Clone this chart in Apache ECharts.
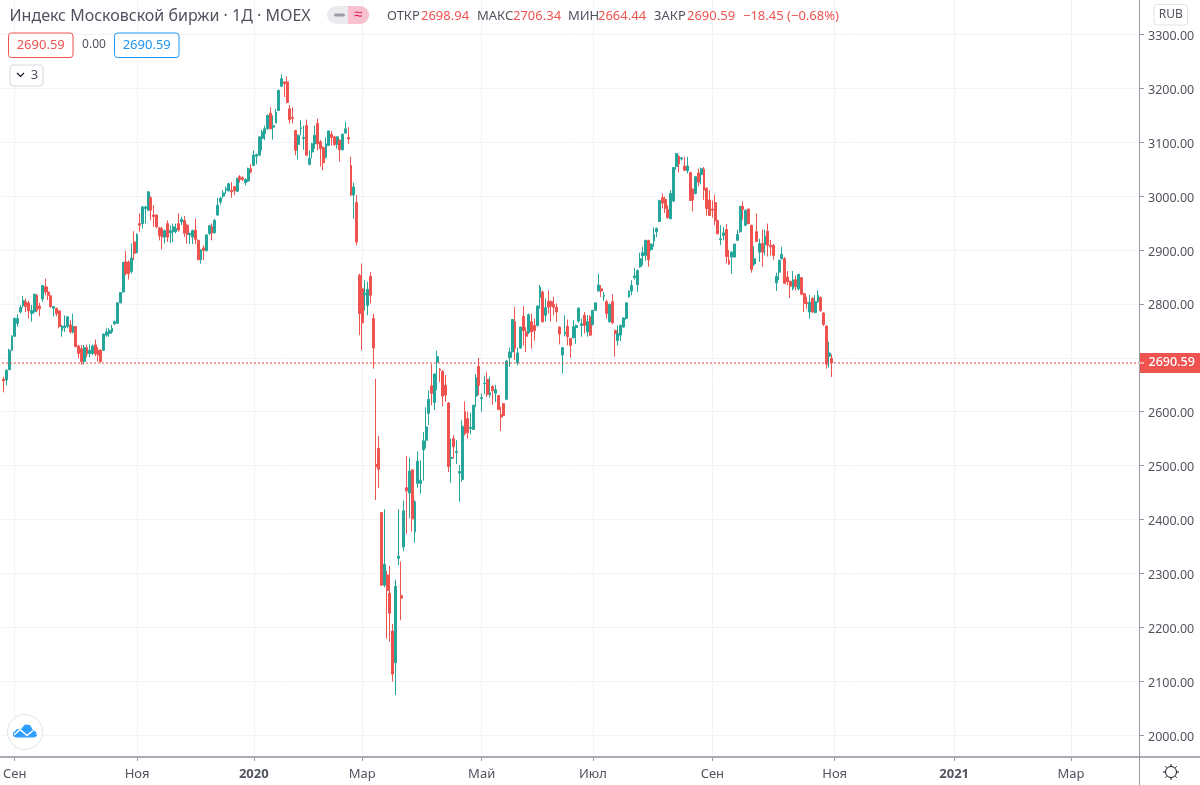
<!DOCTYPE html>
<html>
<head>
<meta charset="utf-8">
<title>Индекс Московской биржи</title>
<style>
  html, body { margin: 0; padding: 0; background: #fff; }
  #chart { width: 1200px; height: 785px; }
</style>
<script src="https://cdn.jsdelivr.net/npm/echarts@6/dist/echarts.min.js"></script>
</head>
<body>
<div id="chart"></div>
<script>
const FONT = '"Noto Sans", sans-serif';

const opens = [
  2660,2659,2678,2714,2740,2764,2785,2797,2804,2802,
  2782,2785,2816,2796,2809,2832,2822,2815,2792,2792,
  2787,2750,2756,2758,2761,2748,2758,2722,2717,2693,
  2719,2708,2708,2724,2714,2714,2714,2742,2745,2748,
  2763,2764,2802,2822,2878,2878,2860,2915,2895,2949,
  2949,2977,2974,2997,2965,2965,2941,2940,2924,2949,
  2932,2934,2934,2949,2952,2955,2946,2928,2924,2937,
  2918,2882,2904,2899,2931,2943,2932,2965,2989,3000,
  3011,3010,3011,3018,3009,3036,3034,3025,3028,3051,
  3057,3074,3076,3107,3116,3125,3154,3128,3136,3159,
  3204,3212,3212,3162,3146,3122,3096,3125,3107,3131,
  3059,3082,3097,3135,3101,3090,3072,3094,3115,3110,
  3096,3104,3086,3117,3109,3057,3002,2988,2853,2828,
  2817,2797,2851,2773,2502,2532,2413,2278,2297,2263,
  2193,2134,2328,2259,2349,2459,2449,2492,2377,2467,
  2467,2529,2547,2597,2648,2617,2692,2679,2675,2649,
  2616,2513,2550,2524,2486,2474,2600,2587,2569,2567,
  2629,2684,2624,2652,2660,2631,2647,2634,2630,2595,
  2615,2623,2700,2711,2767,2691,2718,2777,2748,2747,
  2767,2760,2760,2812,2822,2779,2805,2804,2799,2794,
  2757,2705,2745,2758,2736,2737,2756,2768,2760,2779,
  2748,2776,2762,2788,2824,2828,2814,2804,2767,2804,
  2751,2732,2742,2757,2773,2813,2824,2849,2836,2869,
  2889,2890,2918,2901,2917,2934,2953,2997,2994,2975,
  2958,2991,3055,3074,3069,3056,3047,3044,3013,3005,
  3043,3040,3050,3015,2993,2976,2988,2955,2919,2927,
  2938,2881,2887,2887,2918,2934,2981,2946,2976,2946,
  2874,2934,2896,2912,2910,2935,2909,2909,2839,2859,
  2884,2884,2850,2842,2828,2845,2828,2849,2819,2803,
  2785,2810,2784,2804,2812,2783,2759,2703,2698.94
];
const closes = [
  2657,2677,2714,2740,2773,2773,2793,2806,2795,2787,
  2788,2818,2788,2791,2834,2822,2816,2795,2795,2782,
  2758,2759,2759,2776,2748,2758,2721,2708,2693,2719,
  2707,2714,2722,2707,2705,2693,2744,2748,2751,2755,
  2767,2802,2821,2877,2856,2856,2885,2894,2929,2946,
  2980,2980,3008,2974,2962,2943,2926,2924,2936,2924,
  2936,2943,2940,2937,2957,2931,2929,2931,2936,2920,
  2882,2900,2899,2928,2945,2932,2955,2983,2996,3006,
  3014,3023,3008,3010,3033,3031,3031,3031,3051,3045,
  3076,3077,3110,3119,3125,3150,3125,3131,3156,3196,
  3218,3209,3174,3142,3144,3085,3113,3127,3109,3076,
  3070,3097,3113,3097,3088,3062,3097,3121,3109,3096,
  3110,3086,3115,3125,3106,3002,3017,2915,2782,2765,
  2820,2827,2816,2718,2498,2493,2278,2317,2268,2226,
  2113,2276,2332,2254,2416,2453,2490,2401,2433,2508,
  2473,2546,2572,2623,2634,2670,2702,2677,2629,2631,
  2498,2515,2535,2526,2489,2573,2559,2561,2571,2612,
  2663,2649,2626,2653,2632,2635,2639,2641,2604,2590,
  2593,2694,2711,2771,2717,2709,2757,2750,2740,2780,
  2748,2750,2796,2831,2767,2793,2794,2796,2794,2785,
  2744,2719,2747,2739,2723,2758,2760,2792,2763,2760,
  2767,2742,2788,2802,2835,2824,2816,2782,2799,2765,
  2745,2745,2760,2774,2802,2824,2834,2852,2862,2884,
  2895,2918,2882,2911,2929,2940,2992,2987,2977,2960,
  3005,3053,3079,3060,3071,3048,3056,2992,2993,3036,
  3026,3051,3011,2977,2964,2974,2955,2930,2921,2932,
  2888,2874,2896,2911,2929,2981,2975,2974,2949,2864,
  2884,2916,2912,2896,2925,2909,2906,2890,2851,2881,
  2892,2838,2841,2833,2845,2832,2855,2818,2801,2801,
  2803,2785,2804,2816,2788,2762,2688,2709.04,2690.59
];
const highs = [
  2665,2678,2717,2742,2775,2781,2798,2815,2810,2806,
  2798,2819,2818,2802,2835,2847,2832,2816,2796,2793,
  2788,2761,2779,2777,2770,2782,2759,2724,2724,2724,
  2724,2725,2725,2734,2720,2716,2745,2755,2755,2761,
  2769,2803,2822,2878,2898,2881,2912,2935,2931,2968,
  2982,2982,3009,3000,2983,2966,2943,2943,2938,2955,
  2946,2949,2949,2968,2962,2963,2949,2932,2938,2958,
  2920,2902,2909,2929,2947,2949,2958,2997,2999,3011,
  3018,3025,3026,3018,3034,3039,3037,3033,3053,3059,
  3085,3079,3111,3123,3131,3151,3165,3150,3162,3198,
  3226,3213,3222,3169,3165,3123,3115,3141,3131,3142,
  3085,3099,3131,3144,3104,3093,3109,3122,3121,3111,
  3111,3105,3116,3138,3128,3073,3025,3002,2856,2875,
  2844,2841,2859,2782,2661,2555,2414,2419,2305,2314,
  2206,2288,2419,2322,2435,2518,2515,2493,2436,2526,
  2510,2562,2608,2640,2688,2671,2713,2681,2677,2668,
  2618,2550,2556,2547,2501,2584,2619,2600,2598,2613,
  2670,2700,2634,2666,2674,2665,2649,2650,2631,2609,
  2616,2696,2719,2772,2794,2719,2758,2796,2757,2782,
  2782,2773,2797,2835,2825,2810,2825,2807,2813,2801,
  2758,2720,2779,2771,2737,2770,2762,2794,2773,2785,
  2779,2779,2789,2802,2856,2835,2822,2808,2801,2818,
  2752,2760,2762,2775,2802,2825,2844,2867,2864,2895,
  2906,2919,2919,2912,2942,2942,2993,3005,2999,2983,
  3011,3054,3080,3076,3073,3073,3073,3045,3014,3037,
  3051,3053,3054,3016,3011,2992,3002,2956,2946,2943,
  2948,2900,2898,2912,2938,2982,2990,2975,2977,2947,
  2907,2968,2921,2938,2938,2949,2919,2911,2858,2882,
  2906,2887,2861,2843,2861,2853,2856,2850,2820,2813,
  2817,2813,2816,2825,2814,2785,2760,2730,2706.34
];
const lows = [
  2636,2649,2677,2713,2739,2758,2782,2792,2785,2773,
  2767,2782,2785,2777,2804,2816,2807,2793,2777,2777,
  2755,2739,2748,2755,2745,2745,2719,2699,2687,2687,
  2701,2701,2705,2703,2693,2691,2713,2739,2739,2745,
  2761,2763,2801,2821,2853,2845,2856,2881,2894,2934,
  2940,2949,2973,2955,2943,2940,2918,2901,2912,2915,
  2913,2915,2931,2934,2946,2924,2912,2911,2911,2911,
  2881,2875,2881,2897,2928,2918,2931,2963,2984,2996,
  3004,3008,2997,3002,3008,3025,3028,3020,3026,3042,
  3056,3059,3075,3085,3104,3123,3124,3105,3135,3158,
  3203,3184,3172,3135,3135,3076,3068,3113,3086,3074,
  3057,3070,3088,3085,3055,3048,3070,3093,3094,3093,
  3088,3064,3085,3116,3097,3000,2958,2909,2742,2714,
  2788,2779,2801,2680,2436,2458,2277,2274,2179,2173,
  2099,2074,2315,2213,2341,2373,2402,2378,2357,2459,
  2448,2472,2532,2575,2612,2603,2640,2655,2610,2618,
  2488,2468,2513,2503,2433,2470,2556,2550,2558,2566,
  2609,2631,2600,2632,2627,2626,2613,2618,2603,2564,
  2592,2622,2683,2700,2696,2686,2717,2723,2711,2744,
  2717,2732,2758,2791,2765,2767,2782,2767,2779,2767,
  2725,2671,2740,2723,2700,2736,2726,2765,2739,2745,
  2739,2741,2760,2787,2822,2813,2805,2773,2765,2763,
  2702,2723,2731,2756,2771,2812,2816,2845,2822,2867,
  2872,2880,2869,2898,2906,2924,2952,2977,2969,2958,
  2957,2989,3049,3044,3066,3047,3042,2991,2972,3003,
  3018,3022,2993,2964,2963,2960,2946,2929,2909,2918,
  2875,2872,2856,2886,2917,2932,2956,2944,2948,2858,
  2870,2915,2878,2869,2890,2888,2890,2882,2824,2844,
  2882,2837,2835,2811,2825,2825,2825,2816,2785,2791,
  2773,2783,2782,2802,2785,2759,2680,2682,2664.44
];

const priceTicks = [2000,2100,2200,2300,2400,2500,2600,2700,2800,2900,3000,3100,3200,3300];
// 2700.00 спрятан под плашкой последней цены
const priceLabels = [2000,2100,2200,2300,2400,2500,2600,2800,2900,3000,3100,3200,3300];
const monthIndex = [4,48,90,129,172,212,255,299,342,384];
const monthLabels = ['Сен','Ноя','2020','Мар','Май','Июл','Сен','Ноя','2021','Мар'];
const lastPrice = 2690.59;

// 409 дневных слотов на ширину оси, справа пустое будущее
const SLOTS = 409;
const categories = Array.from({ length: SLOTS }, (_, i) => String(i));
const candles = opens.map((o, i) => [o, closes[i], lows[i], highs[i]]);

const UP = '#26a69a', DOWN = '#ef5350', TEXT = '#50535e', GRID = '#f0f3fa', AXIS = '#9598a1';

const label = (x, y, text, color, size, align) => ({
  type: 'text', x, y, silent: true, z: 20,
  style: { text, fill: color, font: (size || 13) + 'px ' + FONT, textAlign: align || 'left', textVerticalAlign: 'middle' }
});
const box = (x, y, w, h, stroke, r) => ({
  type: 'rect', silent: true, z: 19,
  shape: { x, y, width: w, height: h, r: r || 3 },
  style: { fill: '#fff', stroke, lineWidth: 1 }
});
const line = (x1, y1, x2, y2, color, width) => ({
  type: 'line', silent: true, z: 18,
  shape: { x1, y1, x2, y2 },
  style: { stroke: color, lineWidth: width || 1 }
});

const chrome = [
  // заголовок
  label(9.5, 16, 'Индекс Московской биржи · 1Д · MOEX', TEXT, 16),
  { type: 'rect', silent: true, z: 19, shape: { x: 327, y: 6, width: 42, height: 18, r: 9 }, style: { fill: '#ebebef' } },
  { type: 'rect', silent: true, z: 19, shape: { x: 348, y: 6, width: 21, height: 18, r: [0, 9, 9, 0] }, style: { fill: '#f9c0d0' } },
  { type: 'rect', silent: true, z: 20, shape: { x: 334, y: 13.5, width: 11, height: 3, r: 1.5 }, style: { fill: '#9a9ca5' } },
  label(358, 14.5, '≈', '#d81b60', 15, 'center'),
  // OHLC
  label(387, 16, 'ОТКР', TEXT), label(421, 16, '2698.94', DOWN),
  label(477, 16, 'МАКС', TEXT), label(513, 16, '2706.34', DOWN),
  label(568, 16, 'МИН', TEXT), label(598, 16, '2664.44', DOWN),
  label(654, 16, 'ЗАКР', TEXT), label(687, 16, '2690.59', DOWN),
  label(743, 16, '−18.45 (−0.68%)', DOWN),
  // плашки
  box(8.5, 33, 64.5, 24.5, DOWN), label(40.7, 45, '2690.59', DOWN, 13, 'center'),
  label(94, 45, '0.00', TEXT, 12, 'center'),
  box(114.5, 33, 64.5, 24.5, '#2196f3'), label(146.7, 45, '2690.59', '#2196f3', 13, 'center'),
  box(10, 65, 33, 21, '#d6d8e0'),
  { type: 'polyline', silent: true, z: 20, shape: { points: [[17, 73], [20.5, 76.5], [24, 73]] }, style: { stroke: '#131722', lineWidth: 1.2, fill: 'none' } },
  label(34.5, 75.5, '3', TEXT, 13, 'center'),
  box(1154, 4.5, 33.5, 20.5, '#e0e3eb'), label(1170.7, 15, 'RUB', TEXT, 12, 'center'),
  // разделители панелей
  line(0, 757, 1200, 757, '#a8abb3', 2),
  line(1139.5, 0, 1139.5, 785, AXIS, 1),
  line(1139, 363, 1144, 363, '#fff', 1),
  // логотип
  { type: 'circle', silent: true, z: 19, shape: { cx: 25, cy: 732, r: 17.5 }, style: { fill: '#fff', stroke: '#e0e3eb', lineWidth: 1 } },
  { type: 'polygon', silent: true, z: 20, shape: { points: [[13, 733], [17, 729], [21, 729], [25, 724.5], [30, 725], [33, 730], [36, 732], [37, 736], [34, 737.5], [16, 737.5], [13, 736]] }, style: { fill: '#2e9fff' } },
  { type: 'polyline', silent: true, z: 21, shape: { points: [[14, 735], [20, 729.5], [27, 735.5], [33, 730.5]] }, style: { stroke: '#fff', lineWidth: 1.6, fill: 'none' } },
  // настройки
  { type: 'circle', silent: true, z: 19, shape: { cx: 1171, cy: 772, r: 5.5 }, style: { fill: '#fff', stroke: '#131722', lineWidth: 1 } },
  line(1171, 764, 1171, 766, '#131722'), line(1171, 778, 1171, 780, '#131722'),
  line(1163, 772, 1165, 772, '#131722'), line(1177, 772, 1179, 772, '#131722'),
  line(1165.3, 766.3, 1166.7, 767.7, '#131722'), line(1175.3, 776.3, 1176.7, 777.7, '#131722'),
  line(1165.3, 777.7, 1166.7, 776.3, '#131722'), line(1175.3, 767.7, 1176.7, 766.3, '#131722')
];

const showMonth = (i) => monthIndex.includes(i);

const chart = echarts.init(document.getElementById('chart'), null, { renderer: 'canvas' });
chart.setOption({
  animation: false,
  backgroundColor: '#fff',
  grid: { left: 0, right: 61, top: 0, height: 757 },
  xAxis: {
    type: 'category',
    data: categories,
    boundaryGap: true,
    axisLine: { show: false },
    axisTick: { show: true, alignWithLabel: true, interval: showMonth, length: 4, lineStyle: { color: AXIS } },
    splitLine: { show: true, alignWithLabel: true, interval: showMonth, lineStyle: { color: GRID, width: 1 } },
    axisLabel: {
      interval: showMonth,
      hideOverlap: false,
      margin: 11,
      color: TEXT,
      fontFamily: FONT,
      fontSize: 13,
      formatter: (v) => {
        const name = monthLabels[monthIndex.indexOf(Number(v))] || '';
        return /^\d+$/.test(name) ? '{year|' + name + '}' : name;
      },
      rich: { year: { fontWeight: 'bold', color: TEXT, fontFamily: FONT, fontSize: 13 } }
    }
  },
  yAxis: {
    type: 'value',
    position: 'right',
    min: 1959.2,
    max: 3364,
    scale: true,
    axisLine: { show: false },
    axisTick: { show: true, length: 5, customValues: priceTicks, lineStyle: { color: AXIS } },
    splitLine: { show: true, lineStyle: { color: GRID, width: 1 } },
    axisLabel: {
      customValues: priceLabels,
      margin: 9,
      color: TEXT,
      fontFamily: FONT,
      fontSize: 12.5,
      formatter: (v) => '{p|' + v.toFixed(2) + '}',
      rich: { p: { color: TEXT, fontFamily: FONT, fontSize: 12.5, padding: [4, 0, 0, 0] } }
    }
  },
  series: [{
    type: 'candlestick',
    data: candles,
    barWidth: 2.4,
    clip: true,
    itemStyle: { color: UP, color0: DOWN, borderColor: UP, borderColor0: DOWN, borderWidth: 1 },
    markLine: {
      silent: true,
      symbol: 'none',
      animation: false,
      label: {
        position: 'end',
        distance: 0,
        formatter: lastPrice.toFixed(2),
        color: '#fff',
        backgroundColor: DOWN,
        fontFamily: FONT,
        fontSize: 12.5,
        fontWeight: 500,
        padding: [4, 7, 3, 9.5],
        align: 'left'
      },
      data: [{ yAxis: lastPrice, lineStyle: { type: [1.5, 2.5], color: DOWN, width: 1.5 } }]
    }
  }],
  graphic: chrome
});
</script>
</body>
</html>
